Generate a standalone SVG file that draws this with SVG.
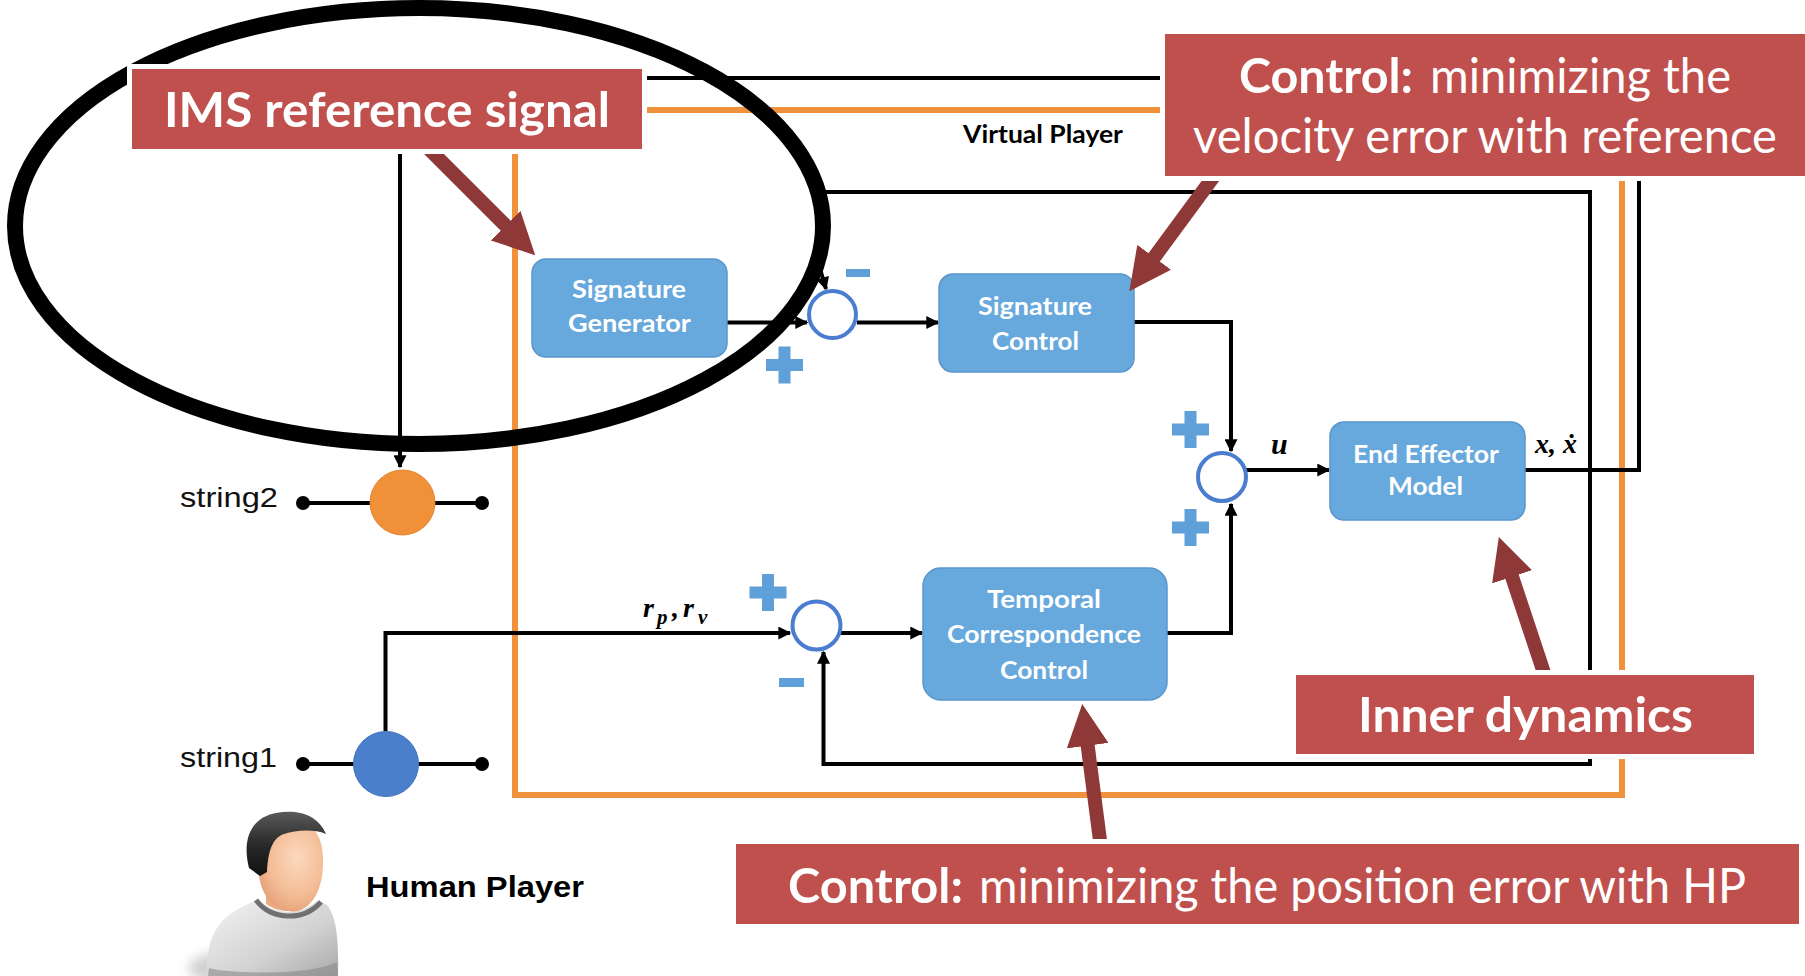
<svg xmlns="http://www.w3.org/2000/svg" width="1805" height="976" viewBox="0 0 1805 976">
  <style>
    .wire { fill: none; stroke: #000; stroke-width: 4; }
    .frame { fill: none; stroke: #F0913B; stroke-width: 6; }
    .block { fill: #67A8DD; stroke: #5A96CB; stroke-width: 1.5; }
    .block-text { font-family: Lato, "Open Sans", "DejaVu Sans", sans-serif; font-weight: 700; font-size: 25px; fill: #fff; }
    .sum { fill: #fff; stroke: #4A7DD0; stroke-width: 4; }
    .sign { fill: #5FA0D8; }
    .string-line { stroke: #000; stroke-width: 4; }
    .string-text { font-family: "Liberation Sans", Arial, sans-serif; font-size: 28px; fill: #111; }
    .math { font-family: "Liberation Serif", "DejaVu Serif", serif; font-weight: 700; font-style: italic; fill: #000; }
    .callout { fill: #C0504D; stroke: #fff; stroke-width: 10; paint-order: stroke; }
    .callout-text { font-family: Lato, "Open Sans", "DejaVu Sans", sans-serif; font-size: 48px; fill: #fff; }
    .bold { font-weight: 700; }
    .pointer { fill: none; stroke: #8F3838; stroke-width: 14; }
  </style>
  <defs>
    <marker id="ah" viewBox="0 0 10 10" refX="9" refY="5" markerWidth="14" markerHeight="13" markerUnits="userSpaceOnUse" orient="auto">
      <path d="M0,0 L10,5 L0,10 z" fill="#000"/>
    </marker>
    <marker id="redhead" viewBox="0 0 10 10" refX="0.5" refY="5" markerWidth="3" markerHeight="3" orient="auto">
      <path d="M0,0 L10,5 L0,10 z" fill="#8F3838"/>
    </marker>
    <g id="plus">
      <rect x="-18.5" y="-6" width="37" height="12"/>
      <rect x="-6" y="-18.5" width="12" height="37"/>
    </g>
    <radialGradient id="faceGrad" cx="0.6" cy="0.4" r="0.7">
      <stop offset="0" stop-color="#FCD9BE"/>
      <stop offset="0.6" stop-color="#F3BC96"/>
      <stop offset="1" stop-color="#E29A72"/>
    </radialGradient>
    <linearGradient id="hairGrad" x1="0" y1="0" x2="0" y2="1">
      <stop offset="0" stop-color="#5A5A5A"/>
      <stop offset="0.5" stop-color="#2A2A2A"/>
      <stop offset="1" stop-color="#111"/>
    </linearGradient>
    <linearGradient id="shirtGrad" x1="0" y1="0" x2="1" y2="1">
      <stop offset="0" stop-color="#F4F4F4"/>
      <stop offset="0.6" stop-color="#D2D2D2"/>
      <stop offset="1" stop-color="#A8A8A8"/>
    </linearGradient>
    <filter id="soft" x="-50%" y="-50%" width="200%" height="200%">
      <feGaussianBlur stdDeviation="6"/>
    </filter>
  </defs>

  <rect width="1805" height="976" fill="#fff"/>

  <!-- Virtual Player boundary -->
  <rect id="virtual-player-frame" class="frame" x="515" y="110" width="1107" height="685"/>
  <text id="virtual-player-label" x="963" y="143" textLength="160" lengthAdjust="spacingAndGlyphs" font-family="Lato, 'Open Sans', sans-serif" font-weight="700" font-size="24" fill="#000">Virtual Player</text>

  <!-- signal connectors -->
  <g id="connectors">
    <polyline class="wire" points="1525,470 1639,470 1639,78 400,78 400,467" marker-end="url(#ah)"/>
    <polyline class="wire" points="1590,470 1590,192 818,192 818,262 826,289" marker-end="url(#ah)"/>
    <polyline class="wire" points="1590,470 1590,764 823.5,764 823.5,652" marker-end="url(#ah)"/>
    <polyline class="wire" points="727,322.5 807,322.5" marker-end="url(#ah)"/>
    <polyline class="wire" points="857,322.5 938,322.5" marker-end="url(#ah)"/>
    <polyline class="wire" points="1134,322 1231,322 1231,451" marker-end="url(#ah)"/>
    <polyline class="wire" points="1167,633 1231,633 1231,504" marker-end="url(#ah)"/>
    <polyline class="wire" points="1246,470 1329,470" marker-end="url(#ah)"/>
    <polyline class="wire" points="385.5,731 385.5,633 790,633" marker-end="url(#ah)"/>
    <polyline class="wire" points="841,633 922,633" marker-end="url(#ah)"/>
  </g>

  <!-- blocks -->
  <g id="signature-generator">
    <rect class="block" x="532" y="259" width="195" height="98" rx="14"/>
    <text class="block-text" x="572" y="298" textLength="114" lengthAdjust="spacingAndGlyphs">Signature</text>
    <text class="block-text" x="568" y="332" textLength="123" lengthAdjust="spacingAndGlyphs">Generator</text>
  </g>
  <g id="signature-control">
    <rect class="block" x="939" y="274" width="195" height="98" rx="14"/>
    <text class="block-text" x="978" y="315" textLength="114" lengthAdjust="spacingAndGlyphs">Signature</text>
    <text class="block-text" x="992" y="350" textLength="87" lengthAdjust="spacingAndGlyphs">Control</text>
  </g>
  <g id="end-effector-model">
    <rect class="block" x="1330" y="422" width="195" height="98" rx="14"/>
    <text class="block-text" x="1353" y="463" textLength="146" lengthAdjust="spacingAndGlyphs">End Effector</text>
    <text class="block-text" x="1388" y="495" textLength="75" lengthAdjust="spacingAndGlyphs">Model</text>
  </g>
  <g id="temporal-correspondence-control">
    <rect class="block" x="923" y="568" width="244" height="132" rx="18"/>
    <text class="block-text" x="987" y="608" textLength="114" lengthAdjust="spacingAndGlyphs">Temporal</text>
    <text class="block-text" x="947" y="643" textLength="194" lengthAdjust="spacingAndGlyphs">Correspondence</text>
    <text class="block-text" x="1000" y="679" textLength="88" lengthAdjust="spacingAndGlyphs">Control</text>
  </g>

  <!-- summing junctions -->
  <g id="sum-velocity">
    <circle class="sum" cx="832.5" cy="314.5" r="23.5"/>
    <rect class="sign" x="846" y="269" width="24" height="8"/>
    <use href="#plus" class="sign" x="784.5" y="365"/>
  </g>
  <g id="sum-input">
    <circle class="sum" cx="1222" cy="477" r="24"/>
    <use href="#plus" class="sign" x="1190.5" y="429.5"/>
    <use href="#plus" class="sign" x="1190.5" y="527.5"/>
  </g>
  <g id="sum-position">
    <circle class="sum" cx="816.5" cy="625.5" r="24"/>
    <use href="#plus" class="sign" x="768" y="592.5"/>
    <rect class="sign" x="779" y="678" width="25" height="9"/>
  </g>

  <!-- signal labels -->
  <g id="signal-labels">
    <text class="math" x="1271" y="454" font-size="30">u</text>
    <text class="math" x="1535" y="453" font-size="28" textLength="42" lengthAdjust="spacingAndGlyphs">x, ẋ</text>
    <text class="math" font-size="28"><tspan x="643" y="617">r</tspan><tspan x="657" y="624" font-size="21">p</tspan><tspan x="672" y="617">,</tspan><tspan x="683" y="617">r</tspan><tspan x="698" y="624" font-size="21">v</tspan></text>
  </g>

  <!-- strings -->
  <g id="string2">
    <line class="string-line" x1="303" y1="503" x2="482" y2="503"/>
    <circle cx="303" cy="503" r="7" fill="#000"/>
    <circle cx="482" cy="503" r="7" fill="#000"/>
    <circle cx="402.5" cy="502.5" r="32.5" fill="#F0913A" stroke="#E38430" stroke-width="1"/>
    <text class="string-text" x="180" y="507" textLength="98" lengthAdjust="spacingAndGlyphs">string2</text>
  </g>
  <g id="string1">
    <line class="string-line" x1="303" y1="764" x2="482" y2="764"/>
    <circle cx="303" cy="764" r="7" fill="#000"/>
    <circle cx="482" cy="764" r="7" fill="#000"/>
    <circle cx="386" cy="764" r="32.5" fill="#4A7FCB" stroke="#3F72BD" stroke-width="1"/>
    <text class="string-text" x="180" y="767" textLength="97" lengthAdjust="spacingAndGlyphs">string1</text>
  </g>

  <!-- human player avatar -->
  <g id="human-player">
    <ellipse cx="228" cy="968" rx="40" ry="16" fill="#000" opacity="0.18" filter="url(#soft)"/>
    <path d="M207,976 C206,944 214,921 240,908 L258,899 C272,913 298,919 318,900 L327,905 C336,917 339,935 338,976 Z" fill="url(#shirtGrad)"/>
    <path d="M209,968 C230,974 310,976 337,962 L338,976 L208,976 Z" fill="#8A8A8A" opacity="0.6"/>
    <path d="M266,880 L266,904 C280,914 300,914 312,900 L308,880 Z" fill="#EBAA84"/>
    <path d="M256,900 C270,919 302,923 321,902" fill="none" stroke="#707070" stroke-width="5"/>
    <path d="M258,848 C258,828 278,820 300,823 C318,826 324,842 323,866 C322,888 314,906 298,911 C284,914 268,904 262,888 C258,876 257,862 258,848 Z" fill="url(#faceGrad)"/>
    <ellipse cx="261" cy="866" rx="6" ry="10" fill="#E6A07A"/>
    <path d="M249,868 C242,840 250,818 276,813 C298,809 318,815 326,834 C314,829 296,830 284,834 C272,838 268,852 267,872 L260,876 Z" fill="url(#hairGrad)"/>
    <text x="366" y="897" textLength="218" lengthAdjust="spacingAndGlyphs" font-family="'Liberation Sans', Arial, sans-serif" font-weight="700" font-size="29" fill="#000">Human Player</text>
  </g>

  <!-- highlight around the reference signal path -->
  <ellipse id="reference-highlight" cx="419" cy="226" rx="404" ry="218" fill="none" stroke="#000" stroke-width="16"/>

  <!-- annotation pointers -->
  <g id="pointers">
    <line class="pointer" x1="428" y1="148" x2="507" y2="227" marker-end="url(#redhead)"/>
    <line class="pointer" x1="1217" y1="172" x2="1153" y2="259" marker-end="url(#redhead)"/>
    <line class="pointer" x1="1101" y1="848" x2="1087.4" y2="743.6" marker-end="url(#redhead)"/>
    <line class="pointer" x1="1546" y1="679" x2="1511.4" y2="574.8" marker-end="url(#redhead)"/>
  </g>

  <!-- annotations -->
  <g id="note-ims">
    <rect class="callout" x="132" y="69" width="510" height="80"/>
    <text class="callout-text bold" x="164" y="127" textLength="446" lengthAdjust="spacingAndGlyphs">IMS reference signal</text>
  </g>
  <g id="note-velocity">
    <rect class="callout" x="1165" y="34" width="650" height="142"/>
    <text class="callout-text bold" x="1239" y="93" textLength="174" lengthAdjust="spacingAndGlyphs">Control:</text>
    <text class="callout-text" x="1430" y="93" textLength="301" lengthAdjust="spacingAndGlyphs">minimizing the</text>
    <text class="callout-text" x="1193" y="153" textLength="584" lengthAdjust="spacingAndGlyphs">velocity error with reference</text>
  </g>
  <g id="note-inner">
    <rect class="callout" x="1296" y="675" width="458" height="79"/>
    <text class="callout-text bold" x="1358" y="732" textLength="335" lengthAdjust="spacingAndGlyphs">Inner dynamics</text>
  </g>
  <g id="note-position">
    <rect class="callout" x="736" y="844" width="1063" height="80"/>
    <text class="callout-text bold" x="788" y="903" textLength="175" lengthAdjust="spacingAndGlyphs">Control:</text>
    <text class="callout-text" x="979" y="903" textLength="767" lengthAdjust="spacingAndGlyphs">minimizing the position error with HP</text>
  </g>
</svg>
